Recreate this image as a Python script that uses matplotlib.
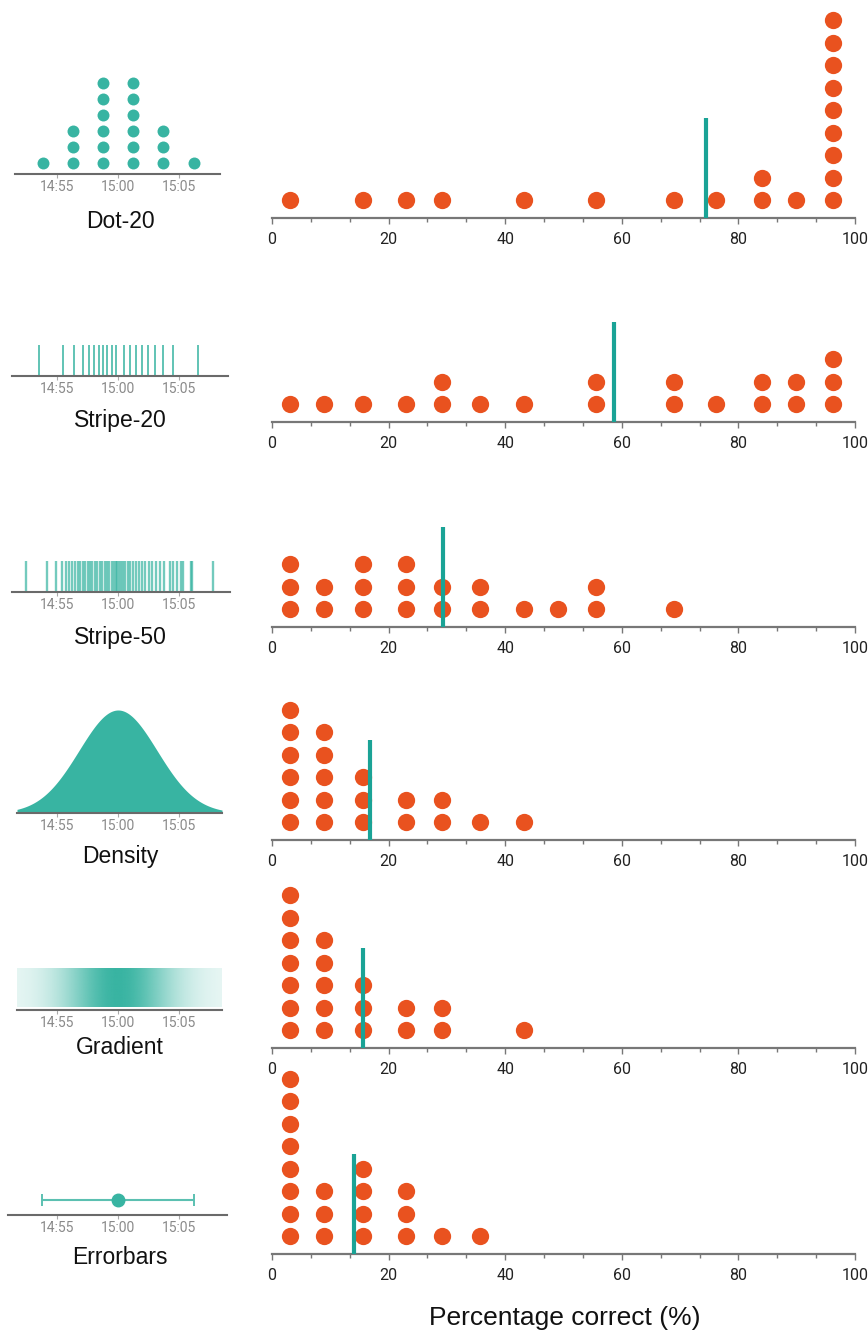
import numpy as np
import matplotlib.pyplot as plt
from matplotlib.colors import to_rgb

plt.rcParams['font.family'] = ['Roboto', 'DejaVu Sans']

W, H = 868, 1333
ORANGE = '#E9521F'
TEAL = '#1AA396'
TEAL_ICON = '#38B4A2'

# ---------------- data ----------------
conditions = ['Dot-20', 'Stripe-20', 'Stripe-50', 'Density', 'Gradient', 'Errorbars']

# percentage-correct bins and number of participants in each bin (20 per condition)
score_bins = [3.1, 9.0, 15.6, 23.0, 29.2, 35.6, 43.2, 49.0, 55.5, 69.0, 76.2, 84.0, 89.8, 96.2]
counts_dot20 =     [1, 0, 1, 1, 1, 0, 1, 0, 1, 1, 1, 2, 1, 9]
counts_stripe20 =  [1, 1, 1, 1, 2, 1, 1, 0, 2, 2, 1, 2, 2, 3]
counts_stripe50 =  [3, 2, 3, 3, 2, 2, 1, 1, 2, 1, 0, 0, 0, 0]
counts_density =   [6, 5, 3, 2, 2, 1, 1, 0, 0, 0, 0, 0, 0, 0]
counts_gradient =  [7, 5, 3, 2, 2, 0, 1, 0, 0, 0, 0, 0, 0, 0]
counts_errorbars = [8, 3, 4, 3, 1, 1, 0, 0, 0, 0, 0, 0, 0, 0]
all_counts = [counts_dot20, counts_stripe20, counts_stripe50,
              counts_density, counts_gradient, counts_errorbars]

# mean score per condition (teal line)
mean_scores = [74.4, 58.6, 29.3, 16.8, 15.6, 14.1]

# icon data: minutes relative to 15:00
icon_tick_pos = [-5, 0, 5]
icon_tick_labels = ['14:55', '15:00', '15:05']
dot20_times = [-6.15, -3.7, -1.2, 1.25, 3.7, 6.2]
dot20_counts = [1, 3, 6, 6, 3, 1]
stripe20_times = [-6.45, -4.48, -3.61, -2.89, -2.36, -1.95, -1.56, -1.20, -0.88, -0.52,
                  -0.16, 0.49, 0.98, 1.48, 1.94, 2.48, 3.03, 3.66, 4.53, 6.58]
stripe50_times = [-7.54, -5.84, -5.08, -4.61, -4.29, -4.02, -3.80, -3.52,
                  -3.3, -3.1, -2.9, -2.7, -2.5, -2.3, -2.1, -1.9, -1.7, -1.5, -1.3, -1.1,
                  -0.9, -0.7, -0.5, -0.35, -0.2, -0.05, 0.1, 0.25, 0.4, 0.6, 0.8, 1.0,
                  1.2, 1.45, 1.7, 1.95, 2.2, 2.5, 2.8, 3.1, 3.45, 3.8,
                  4.26, 4.53, 4.81, 5.16, 5.35, 5.98, 6.09, 7.80]
arrival_mean = 0.0
arrival_sd = 3.2
errorbar_halfwidth = 6.2

# ---------------- layout (pixels) ----------------
right_axis_y = [218, 422, 627, 840, 1048, 1254]
icon_axis_y = [174, 376, 592, 813, 1010, 1215]
icon_extent = [(15, 220), (12, 228), (12, 230), (17, 222), (17, 222), (8, 227)]
icon_label_y = [222, 420, 637, 857, 1047, 1257]
X0, X1 = 272, 855
DOT_STEP = 22.5
PANEL_H = 215
IC_CENTER, PX_PER_MIN = 118, 12.2
ICON_H = 115

fig = plt.figure(figsize=(W / 100, H / 100), dpi=100)

def px_axes(x0, x1, y_bottom, height):
    return fig.add_axes([x0 / W, 1 - y_bottom / H, (x1 - x0) / W, height / H])

minor = [v for v in np.arange(0, 100.01, 20 / 3) if abs(v / 20 - round(v / 20)) > 1e-6]

# ---------------- right dot plots ----------------
for i in range(6):
    ax = px_axes(X0, X1, right_axis_y[i], PANEL_H)
    ax.set_xlim(0, 100)
    ax.set_ylim(0, PANEL_H / DOT_STEP)
    xs, ys = [], []
    for b, c in zip(score_bins, all_counts[i]):
        for k in range(c):
            xs.append(b)
            ys.append(0.8 + k)
    ax.scatter(xs, ys, s=155, color=ORANGE, linewidths=0, clip_on=False, zorder=2)
    ax.vlines(mean_scores[i], 0, 100 / DOT_STEP, color=TEAL, lw=3, zorder=3, clip_on=False)
    for s in ['top', 'right', 'left']:
        ax.spines[s].set_visible(False)
    ax.spines['bottom'].set_color('#777777')
    ax.spines['bottom'].set_linewidth(1.6)
    ax.set_yticks([])
    ax.set_xticks([0, 20, 40, 60, 80, 100])
    ax.set_xticks(minor, minor=True)
    ax.tick_params(axis='x', which='major', length=4, width=1, color='#777777',
                   labelsize=11.5, labelcolor='#222222', pad=6)
    ax.tick_params(axis='x', which='minor', length=3, width=1, color='#777777')
    ax.patch.set_visible(False)

fig.text(565 / W, 1 - 1318 / H, 'Percentage correct (%)', ha='center', va='center',
         fontsize=19, family=['Liberation Sans', 'DejaVu Sans'], color='#111111')

# ---------------- left icons ----------------
for i in range(6):
    x0, x1 = icon_extent[i]
    ax = px_axes(x0, x1, icon_axis_y[i], ICON_H)
    ax.set_xlim((x0 - IC_CENTER) / PX_PER_MIN, (x1 - IC_CENTER) / PX_PER_MIN)
    ax.set_ylim(0, ICON_H)
    xl = ax.get_xlim()

    if i == 0:
        for t, c in zip(dot20_times, dot20_counts):
            ax.scatter([t] * c, [11 + 16 * k for k in range(c)], s=74, color=TEAL_ICON,
                       linewidths=0, clip_on=False)
    elif i == 1:
        ax.vlines(stripe20_times, 1, 31, color=TEAL_ICON, lw=1.4, alpha=0.8)
    elif i == 2:
        ax.vlines(stripe50_times, 1, 31, color=TEAL_ICON, lw=1.7, alpha=0.7)
    elif i == 3:
        t = np.linspace(xl[0], xl[1], 300)
        dens = np.exp(-0.5 * ((t - arrival_mean) / arrival_sd) ** 2)
        ax.fill_between(t, 0, 103 * dens, color=TEAL_ICON, lw=0)
    elif i == 4:
        t = np.linspace(xl[0], xl[1], 400)
        dens = np.exp(-0.5 * ((t - arrival_mean) / arrival_sd) ** 2)
        rgba = np.zeros((1, len(t), 4))
        rgba[..., :3] = to_rgb(TEAL_ICON)
        rgba[0, :, 3] = 0.1 + 0.9 * dens
        ax.imshow(rgba, extent=[xl[0], xl[1], 3, 42], aspect='auto', interpolation='bilinear')
        ax.set_ylim(0, ICON_H)
    else:
        ax.errorbar([arrival_mean], [15], xerr=[errorbar_halfwidth], fmt='o', color='#5BC0B1',
                    ecolor='#5BC0B1', ms=9, mfc=TEAL_ICON, mec=TEAL_ICON, elinewidth=1.5,
                    capsize=4.5, capthick=1.4)

    for s in ['top', 'right', 'left']:
        ax.spines[s].set_visible(False)
    ax.spines['bottom'].set_color('#6a6a6a')
    ax.spines['bottom'].set_linewidth(1.5)
    ax.set_yticks([])
    ax.set_xticks(icon_tick_pos)
    ax.set_xticklabels(icon_tick_labels)
    ax.tick_params(axis='x', length=3, width=0.8, color='#aaaaaa', labelsize=10,
                   labelcolor='#8a8a8a', pad=1.5)
    ax.patch.set_visible(False)

    fig.text(120 / W, 1 - icon_label_y[i] / H, conditions[i], ha='center', va='center',
             fontsize=16.5, family=['Liberation Sans', 'DejaVu Sans'], color='#111111')

fig.savefig('out.png', dpi=100)
